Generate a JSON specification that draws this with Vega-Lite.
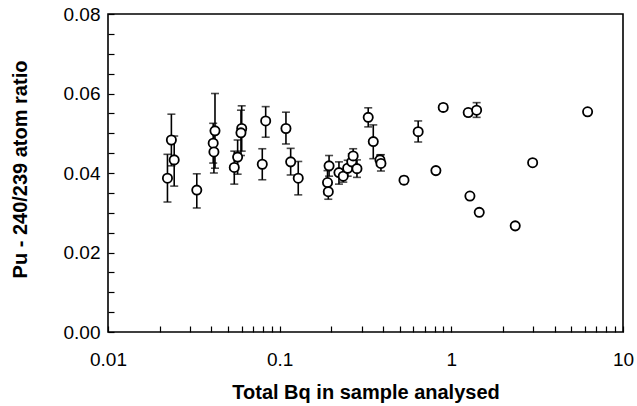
{
  "$schema": "https://vega.github.io/schema/vega-lite/v6.json",
  "width": 515,
  "height": 318,
  "autosize": {"type": "none"},
  "padding": {"left": 108, "top": 14, "right": 14, "bottom": 74},
  "background": "white",
  "config": {
    "view": {"stroke": "black", "strokeWidth": 1.6},
    "font": "Liberation Sans",
    "axis": {
      "domain": false,
      "grid": false,
      "tickColor": "black",
      "tickWidth": 1.2,
      "tickSize": -6,
      "labelColor": "black",
      "labelFont": "Liberation Sans",
      "labelFontSize": 19,
      "labelFlush": false,
      "labelOverlap": false,
      "titleColor": "black",
      "titleFont": "Liberation Sans",
      "titleFontSize": 20,
      "titleFontWeight": "bold"
    }
  },
  "data": {
    "values": [
      {"bq": 0.0222, "ratio": 0.0387, "lo": 0.0327, "hi": 0.0447},
      {"bq": 0.0234, "ratio": 0.0483, "lo": 0.0418, "hi": 0.0548},
      {"bq": 0.0243, "ratio": 0.0433, "lo": 0.0367, "hi": 0.0493},
      {"bq": 0.0329, "ratio": 0.0357, "lo": 0.0312, "hi": 0.0398},
      {"bq": 0.0410, "ratio": 0.0475, "lo": 0.0425, "hi": 0.0525},
      {"bq": 0.0414, "ratio": 0.0453, "lo": 0.0400, "hi": 0.0506},
      {"bq": 0.0420, "ratio": 0.0506, "lo": 0.0412, "hi": 0.0600},
      {"bq": 0.0544, "ratio": 0.0414, "lo": 0.0372, "hi": 0.0455},
      {"bq": 0.0569, "ratio": 0.0440, "lo": 0.0397, "hi": 0.0483},
      {"bq": 0.0601, "ratio": 0.0512, "lo": 0.0455, "hi": 0.0569},
      {"bq": 0.0595, "ratio": 0.0501, "lo": 0.0444, "hi": 0.0558},
      {"bq": 0.0792, "ratio": 0.0422, "lo": 0.0383, "hi": 0.0461},
      {"bq": 0.0829, "ratio": 0.0531, "lo": 0.0490, "hi": 0.0567},
      {"bq": 0.1088, "ratio": 0.0512, "lo": 0.0473, "hi": 0.0553},
      {"bq": 0.1159, "ratio": 0.0428, "lo": 0.0395, "hi": 0.0462},
      {"bq": 0.1283, "ratio": 0.0387, "lo": 0.0345, "hi": 0.0429},
      {"bq": 0.190, "ratio": 0.0376, "lo": 0.0346, "hi": 0.0406},
      {"bq": 0.192, "ratio": 0.0353, "lo": 0.0334, "hi": 0.0372},
      {"bq": 0.194, "ratio": 0.0418, "lo": 0.0392, "hi": 0.0444},
      {"bq": 0.2215, "ratio": 0.0401, "lo": 0.0372, "hi": 0.0428},
      {"bq": 0.2347, "ratio": 0.0392, "lo": 0.0377, "hi": 0.0407},
      {"bq": 0.249, "ratio": 0.0412, "lo": 0.0392, "hi": 0.0432},
      {"bq": 0.263, "ratio": 0.0428, "lo": 0.0408, "hi": 0.0448},
      {"bq": 0.268, "ratio": 0.0443, "lo": 0.0425, "hi": 0.0461},
      {"bq": 0.282, "ratio": 0.0411, "lo": 0.0389, "hi": 0.0433},
      {"bq": 0.328, "ratio": 0.0540, "lo": 0.0516, "hi": 0.0564},
      {"bq": 0.351, "ratio": 0.0479, "lo": 0.0436, "hi": 0.0521},
      {"bq": 0.384, "ratio": 0.0433, "lo": 0.0421, "hi": 0.0445},
      {"bq": 0.389, "ratio": 0.0424, "lo": 0.0405, "hi": 0.0446},
      {"bq": 0.530, "ratio": 0.0382, "lo": 0.0373, "hi": 0.0391},
      {"bq": 0.641, "ratio": 0.0504, "lo": 0.0478, "hi": 0.0531},
      {"bq": 0.813, "ratio": 0.0406},
      {"bq": 0.897, "ratio": 0.0565, "lo": 0.0557, "hi": 0.0573},
      {"bq": 1.254, "ratio": 0.0552, "lo": 0.0544, "hi": 0.0560},
      {"bq": 1.283, "ratio": 0.0342, "lo": 0.0336, "hi": 0.0348},
      {"bq": 1.404, "ratio": 0.0558, "lo": 0.0540, "hi": 0.0577},
      {"bq": 1.454, "ratio": 0.0301},
      {"bq": 2.356, "ratio": 0.0267},
      {"bq": 2.976, "ratio": 0.0426, "lo": 0.0420, "hi": 0.0432},
      {"bq": 6.22, "ratio": 0.0554, "lo": 0.0548, "hi": 0.0560}
    ]
  },
  "encoding": {
    "x": {
      "field": "bq",
      "type": "quantitative",
      "scale": {"type": "log", "domain": [0.01, 10], "nice": false},
      "axis": {
        "title": "Total Bq in sample analysed",
        "values": [0.01, 0.02, 0.03, 0.04, 0.05, 0.06, 0.07, 0.08, 0.09,
                   0.1, 0.2, 0.3, 0.4, 0.5, 0.6, 0.7, 0.8, 0.9,
                   1, 2, 3, 4, 5, 6, 7, 8, 9, 10],
        "labelExpr": "indexof([0.01, 0.1, 1, 10], datum.value) >= 0 ? datum.value + '' : ''",
        "labelBaseline": "top",
        "labelPadding": 24,
        "titleY": 50,
        "titleBaseline": "top"
      }
    },
    "y": {
      "field": "ratio",
      "type": "quantitative",
      "scale": {"domain": [0, 0.08], "nice": false},
      "axis": {
        "title": "Pu - 240/239 atom ratio",
        "values": [0, 0.005, 0.01, 0.015, 0.02, 0.025, 0.03, 0.035, 0.04,
                   0.045, 0.05, 0.055, 0.06, 0.065, 0.07, 0.075, 0.08],
        "labelExpr": "indexof([0, 0.02, 0.04, 0.06, 0.08], datum.value) >= 0 ? format(datum.value, '.2f') : ''",
        "labelPadding": 14,
        "titleX": -88,
        "titleY": 155,
        "titleAlign": "center",
        "titleBaseline": "middle",
        "titleAngle": 270
      }
    }
  },
  "layer": [
    {
      "transform": [{"filter": "isValid(datum.lo)"}],
      "mark": {"type": "rule", "color": "black", "strokeWidth": 1.6},
      "encoding": {"y": {"field": "lo"}, "y2": {"field": "hi"}}
    },
    {
      "transform": [{"filter": "isValid(datum.lo)"}],
      "mark": {"type": "tick", "orient": "horizontal", "color": "black", "size": 8, "thickness": 1.6},
      "encoding": {"y": {"field": "lo"}}
    },
    {
      "transform": [{"filter": "isValid(datum.hi)"}],
      "mark": {"type": "tick", "orient": "horizontal", "color": "black", "size": 8, "thickness": 1.6},
      "encoding": {"y": {"field": "hi"}}
    },
    {
      "mark": {"type": "point", "shape": "circle", "filled": true, "fill": "white", "stroke": "black", "strokeWidth": 1.8, "size": 85, "opacity": 1}
    }
  ]
}
